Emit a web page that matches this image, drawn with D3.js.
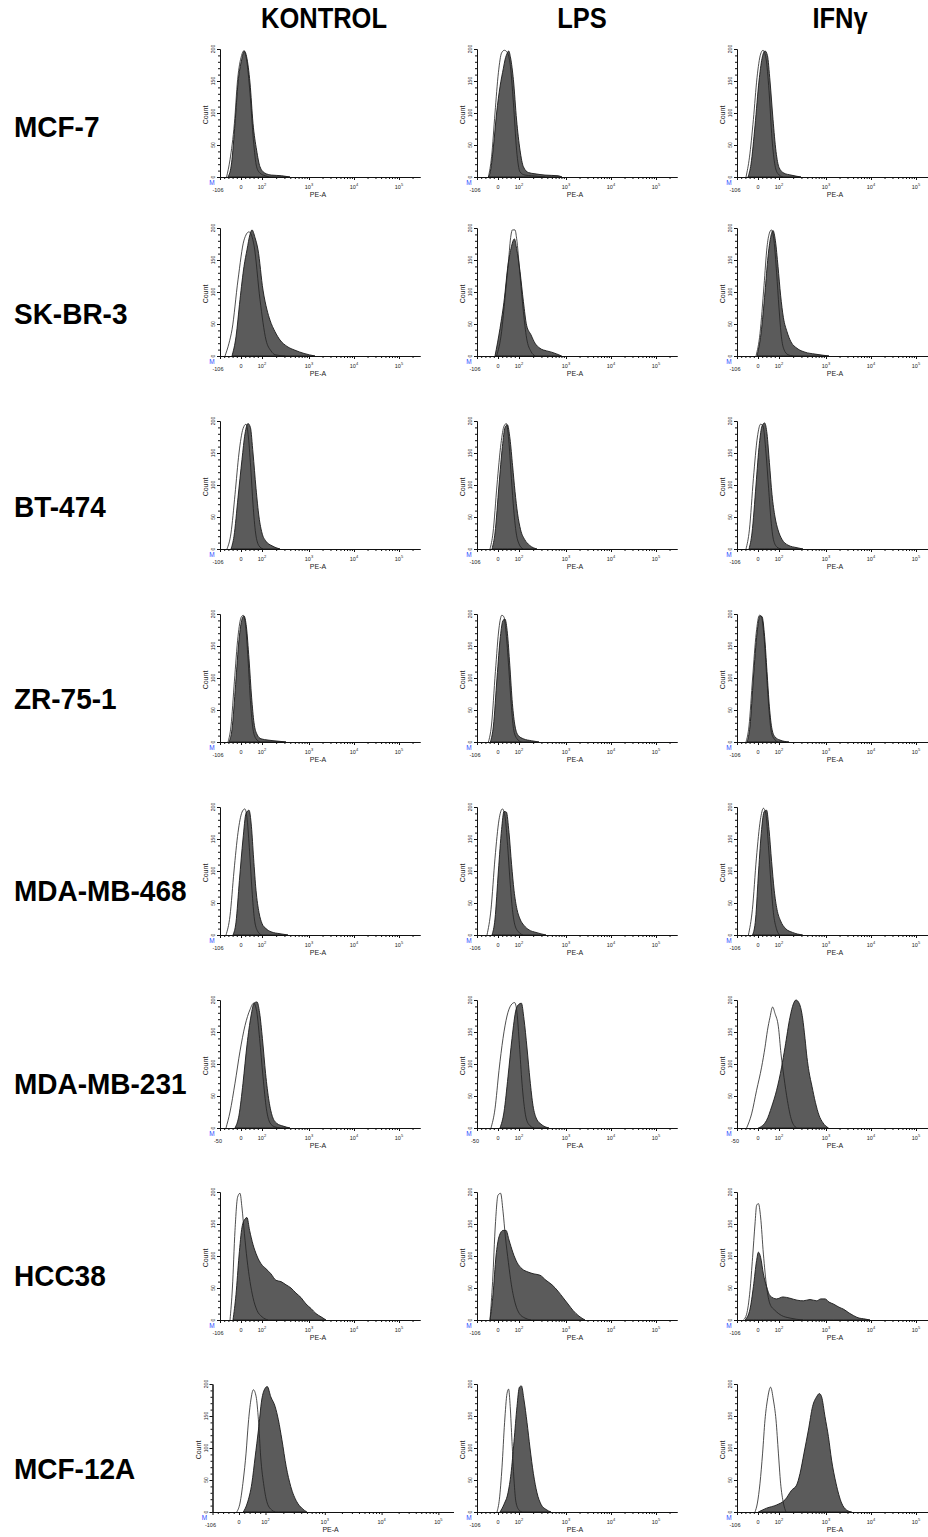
<!DOCTYPE html>
<html>
<head>
<meta charset="utf-8">
<script src="https://cdn.jsdelivr.net/npm/d3@7"></script>
<style>
  body { margin: 0; background: #fff; }
  svg { display: block; }
</style>
</head>
<body>
<svg id="chart"></svg>
<script>
const CELL_LINES = ['MCF-7', 'SK-BR-3', 'BT-474', 'ZR-75-1', 'MDA-MB-468', 'MDA-MB-231', 'HCC38', 'MCF-12A'];
const TREATMENTS = ['KONTROL', 'LPS', 'IFNγ'];
const COUNT_TICKS = [0, 50, 100, 150, 200];
// PE-A axis is drawn in display channels (0..1000), decades placed as in the cytometer export
const PE_TICK_CH = [0, 105, 210, 445, 670, 895];
const PE_TICK_LABELS = ['-106', '0', '10^2', '10^3', '10^4', '10^5'];
const PE_MIN_LABELS = ['-106', '-106', '-106', '-106', '-106', '-50', '-106', '-106'];

// histograms: [channel, count], one entry per treatment (KONTROL, LPS, IFNγ)
const MCF7_STAINED = [
  [[40,0],[58,22],[75,84],[90,147],[108,183],[122,197],[133,188],[150,147],[165,84],[183,42],[200,16],[225,6],[258,3],[308,2],[350,0]],
  [[55,0],[65,6],[82,47],[98,100],[115,141],[132,170],[140,183],[152,194],[158,197],[168,186],[182,152],[198,89],[215,42],[232,16],[257,7],[290,5],[340,3],[405,2],[425,0]],
  [[55,0],[70,20],[90,80],[110,150],[125,185],[140,197],[152,190],[165,150],[180,90],[195,40],[210,15],[235,6],[270,3],[320,0]]
];
const MCF7_ISOTYPE = [
  [[33,0],[50,27],[72,84],[88,152],[108,190],[118,197],[133,183],[150,131],[167,58],[183,16],[200,6],[225,2],[245,0]],
  [[57,0],[73,32],[90,100],[107,163],[123,194],[137,198],[148,196],[165,178],[182,116],[198,42],[215,8],[240,3],[273,2],[340,0]],
  [[45,0],[62,30],[82,90],[100,155],[118,192],[130,198],[145,185],[160,135],[175,60],[190,18],[205,5],[230,0]]
];
const SKBR3_STAINED = [
  [[60,0],[80,30],[100,88],[120,140],[135,166],[150,190],[160,197],[175,185],[190,166],[215,103],[235,72],[250,56],[275,38],[300,25],[335,15],[375,9],[420,4],[475,0]],
  [[90,0],[115,43],[137,90],[153,137],[170,168],[187,183],[198,168],[215,132],[232,85],[248,48],[270,33],[290,20],[315,12],[348,8],[373,6],[423,0]],
  [[100,0],[120,35],[140,100],[155,155],[168,185],[180,196],[192,180],[205,140],[218,95],[232,60],[250,38],[270,22],[300,12],[340,6],[390,3],[460,0]]
];
const SKBR3_ISOTYPE = [
  [[25,0],[45,20],[60,41],[90,119],[120,181],[145,194],[170,173],[200,88],[230,25],[255,8],[275,2],[325,0]],
  [[98,0],[123,38],[140,91],[157,147],[170,189],[177,197],[190,197],[198,184],[215,127],[232,69],[248,28],[270,7],[290,0]],
  [[95,0],[115,35],[135,110],[150,170],[162,192],[172,197],[185,180],[198,130],[210,75],[222,30],[235,10],[255,2],[280,0]]
];
const BT474_STAINED = [
  [[55,0],[70,20],[90,80],[110,140],[125,180],[140,196],[152,190],[165,150],[180,95],[195,50],[210,25],[230,12],[260,5],[300,0]],
  [[75,0],[90,25],[110,100],[127,160],[140,190],[152,194],[165,172],[178,130],[190,90],[203,55],[218,30],[238,15],[262,6],[300,0]],
  [[60,0],[75,25],[95,100],[112,165],[125,192],[138,197],[150,180],[162,135],[175,85],[190,50],[205,30],[225,15],[255,6],[300,2],[330,0]]
];
const BT474_ISOTYPE = [
  [[35,0],[55,25],[75,85],[95,150],[115,188],[130,195],[142,175],[155,120],[165,70],[178,25],[195,5],[215,0]],
  [[65,0],[80,25],[100,100],[120,165],[135,192],[147,196],[160,165],[172,110],[184,60],[196,25],[210,8],[230,0]],
  [[45,0],[62,30],[82,110],[102,175],[118,195],[130,192],[145,150],[158,95],[170,45],[182,15],[200,3],[220,0]]
];
const ZR751_STAINED = [
  [[45,0],[60,20],[78,90],[95,160],[110,192],[120,197],[132,180],[145,130],[158,70],[170,30],[185,12],[205,5],[240,3],[300,1],[330,0]],
  [[67,0],[82,25],[100,100],[117,165],[130,190],[140,192],[152,170],[164,120],[177,60],[190,25],[207,10],[232,5],[272,2],[310,0]],
  [[50,0],[65,25],[82,100],[100,170],[115,197],[125,196],[138,165],[150,110],[162,55],[175,20],[190,8],[215,3],[260,0]]
];
const ZR751_ISOTYPE = [
  [[40,0],[55,25],[72,95],[90,165],[106,195],[116,198],[128,182],[140,130],[152,65],[165,20],[180,5],[200,0]],
  [[57,0],[72,25],[92,110],[110,178],[124,198],[134,196],[147,165],[160,110],[172,55],[184,18],[200,5],[222,0]],
  [[45,0],[60,25],[78,100],[96,170],[112,198],[122,196],[135,165],[148,105],[160,50],[172,15],[188,4],[205,0]]
];
const MDA468_STAINED = [
  [[65,0],[80,20],[97,85],[115,150],[130,190],[145,195],[157,170],[168,120],[180,70],[195,35],[210,18],[230,10],[255,5],[300,2],[340,0]],
  [[75,0],[90,25],[107,100],[123,165],[135,193],[147,192],[160,160],[173,110],[185,70],[200,40],[215,25],[235,15],[260,8],[295,4],[345,0]],
  [[78,0],[93,25],[108,100],[123,165],[136,193],[148,195],[160,165],[173,115],[186,70],[200,40],[218,22],[243,10],[278,4],[328,0]]
];
const MDA468_ISOTYPE = [
  [[30,0],[50,30],[70,100],[90,160],[110,192],[124,197],[136,180],[148,130],[160,70],[172,25],[188,6],[208,0]],
  [[50,0],[70,40],[90,120],[110,180],[127,197],[140,185],[153,140],[165,85],[177,40],[190,15],[210,4],[230,0]],
  [[57,0],[77,40],[97,120],[117,180],[132,198],[144,190],[157,140],[170,80],[182,35],[197,10],[212,0]]
];
const MDA231_STAINED = [
  [[75,0],[95,20],[115,70],[135,130],[155,175],[170,195],[185,197],[198,180],[212,140],[228,85],[245,42],[262,18],[285,7],[315,3],[350,0]],
  [[115,0],[135,25],[155,80],[175,140],[195,185],[208,193],[222,195],[235,170],[250,125],[265,75],[280,35],[298,14],[320,6],[360,0]],
  [[107,0],[148,12],[173,33],[198,59],[223,95],[240,126],[265,173],[282,194],[295,200],[312,194],[328,172],[340,140],[350,110],[360,88],[375,65],[392,40],[410,20],[430,8],[457,0]]
];
const MDA231_ISOTYPE = [
  [[30,0],[50,25],[75,70],[100,120],[125,160],[150,185],[168,195],[182,185],[198,140],[215,80],[232,30],[250,8],[272,2],[300,0]],
  [[70,0],[90,30],[110,90],[130,140],[150,175],[170,192],[188,196],[200,180],[212,130],[225,70],[240,25],[258,6],[285,0]],
  [[48,0],[73,22],[98,59],[123,95],[140,126],[152,152],[165,173],[178,189],[190,179],[207,158],[220,116],[235,79],[252,43],[273,12],[298,0]]
];
const HCC38_STAINED = [
  [[65,0],[80,40],[95,100],[110,145],[125,158],[135,160],[148,140],[165,118],[185,100],[205,88],[230,80],[255,72],[280,62],[305,60],[330,55],[355,50],[380,42],[405,35],[430,25],[455,18],[480,10],[505,5],[530,0]],
  [[65,0],[80,40],[95,100],[110,130],[130,140],[145,140],[160,125],[180,105],[200,90],[225,80],[255,75],[285,72],[315,70],[345,62],[375,55],[405,45],[430,35],[455,25],[480,15],[510,6],[540,0]],
  [[40,0],[65,17],[82,52],[98,93],[107,106],[118,98],[132,72],[148,52],[165,38],[198,33],[230,36],[265,34],[300,31],[332,30],[365,32],[398,30],[420,33],[440,33],[460,28],[482,25],[510,20],[532,17],[560,11],[582,7],[610,3],[632,2],[665,0]]
];
const HCC38_ISOTYPE = [
  [[50,0],[62,50],[75,140],[88,192],[100,198],[110,175],[122,135],[135,95],[150,60],[165,35],[185,15],[210,5],[240,0]],
  [[65,0],[78,60],[92,150],[105,195],[118,198],[130,170],[142,130],[157,90],[172,55],[192,25],[212,10],[240,3],[270,0]],
  [[32,0],[48,9],[65,46],[78,98],[90,150],[98,179],[107,182],[118,161],[132,103],[148,52],[165,25],[190,15],[223,7],[265,3],[330,0]]
];
const MCF12A_STAINED = [
  [[122,0],[138,14],[156,45],[169,86],[182,128],[195,175],[208,193],[217,196],[231,180],[248,165],[261,144],[275,113],[292,71],[310,40],[334,16],[354,6],[374,0]],
  [[115,0],[135,12],[155,30],[170,60],[185,110],[200,165],[212,195],[222,197],[235,175],[250,140],[265,100],[282,60],[300,30],[320,12],[345,4],[370,0]],
  [[107,0],[148,6],[198,11],[240,19],[273,34],[298,42],[315,60],[335,92],[357,128],[378,165],[398,180],[412,185],[423,180],[440,149],[457,118],[473,81],[495,45],[523,14],[548,3],[573,0]]
];
const MCF12A_ISOTYPE = [
  [[96,0],[109,14],[122,50],[133,92],[142,139],[152,175],[162,191],[173,180],[182,144],[191,86],[204,40],[217,14],[235,3],[248,0]],
  [[100,0],[112,20],[125,70],[138,140],[150,185],[158,192],[166,165],[175,110],[185,50],[195,15],[210,3],[225,0]],
  [[90,0],[102,14],[115,45],[128,92],[140,144],[152,175],[168,195],[182,175],[195,144],[207,92],[218,45],[232,14],[245,0]]
];

const STAINED = [MCF7_STAINED, SKBR3_STAINED, BT474_STAINED, ZR751_STAINED, MDA468_STAINED, MDA231_STAINED, HCC38_STAINED, MCF12A_STAINED];
const ISOTYPE = [MCF7_ISOTYPE, SKBR3_ISOTYPE, BT474_ISOTYPE, ZR751_ISOTYPE, MDA468_ISOTYPE, MDA231_ISOTYPE, HCC38_ISOTYPE, MCF12A_ISOTYPE];

// layout
const W = 928, H = 1537;
const COL_X = [220, 477, 737];
const ROW_BASE = [177, 356, 549, 742, 935, 1128, 1320, 1512];
const ROW_LABEL_Y = [137, 324, 517, 709, 901, 1094, 1286, 1479];
const HEAD_X = [324, 582, 840];
const PANEL_W = 200, PANEL_H = 128;
const FONT = '"Liberation Sans", Arial, sans-serif';

const svg = d3.select('#chart').attr('width', W).attr('height', H);
svg.append('rect').attr('width', W).attr('height', H).attr('fill', '#fff');

// column headers
TREATMENTS.forEach((t, i) => {
  svg.append('text')
    .attr('transform', `translate(${HEAD_X[i]},28) scale(1,1.13)`)
    .attr('text-anchor', 'middle')
    .attr('font-family', FONT).attr('font-weight', 'bold').attr('font-size', 25.5)
    .attr('fill', '#000')
    .text(t);
});

// row labels
CELL_LINES.forEach((name, i) => {
  svg.append('text')
    .attr('transform', `translate(14,${ROW_LABEL_Y[i]}) scale(1,1.05)`)
    .attr('font-family', FONT).attr('font-weight', 'bold').attr('font-size', 28)
    .attr('fill', '#000')
    .text(name);
});

function minorChannels() {
  const out = [];
  // linear part around zero
  for (let k = -5; k <= 5; k++) {
    const ch = 105 + k * 21;
    if (k !== 0 && k !== 5 && ch > 0) out.push(ch);
  }
  // log decades
  const dec = [[210, 445], [445, 670], [670, 895], [895, 1120]];
  dec.forEach(([a, b]) => {
    for (let m = 2; m <= 9; m++) {
      const ch = a + Math.log10(m) * (b - a);
      if (ch < 1000) out.push(ch);
    }
  });
  return out;
}
const MINOR_CH = minorChannels();

function tickLabel(g, xPos, yPos, label) {
  const t = g.append('text')
    .attr('x', xPos).attr('y', yPos)
    .attr('text-anchor', 'middle')
    .attr('font-family', FONT).attr('font-size', 5.5).attr('fill', '#222');
  const parts = label.split('^');
  t.append('tspan').text(parts[0]);
  if (parts[1]) {
    t.append('tspan').attr('dy', -2.6).attr('font-size', 4).text(parts[1]);
  }
}

function drawPanel(r, c) {
  let x0 = COL_X[c], w = PANEL_W, chMax = 1000;
  if (r === 7 && c === 0) { x0 = 212.5; w = 241; chMax = 955; }
  const base = ROW_BASE[r];
  const g = svg.append('g');

  const x = d3.scaleLinear().domain([0, chMax]).range([x0, x0 + w]);
  const y = d3.scaleLinear().domain([0, 200]).range([base, base - PANEL_H]);

  const area = d3.area()
    .x(d => x(d[0])).y0(y(0)).y1(d => y(d[1]))
    .curve(d3.curveMonotoneX);
  const line = d3.line()
    .x(d => x(d[0])).y(d => y(d[1]))
    .curve(d3.curveMonotoneX);

  g.append('path')
    .attr('d', area(STAINED[r][c]))
    .attr('fill', '#5b5b5b')
    .attr('stroke', '#1a1a1a').attr('stroke-width', 0.9);
  g.append('path')
    .attr('d', line(ISOTYPE[r][c]))
    .attr('fill', 'none')
    .attr('stroke', '#222').attr('stroke-width', 0.8);

  // count axis
  const yAxis = g.append('g').attr('transform', `translate(${x0},0)`);
  yAxis.append('g').call(d3.axisLeft(y).tickValues(d3.range(0, 201, 10)).tickSize(2).tickSizeOuter(0).tickFormat(''));
  yAxis.append('g').call(d3.axisLeft(y).tickValues(COUNT_TICKS).tickSize(3).tickSizeOuter(0).tickFormat(''));
  COUNT_TICKS.forEach(v => {
    g.append('text')
      .attr('transform', `translate(${x0 - 5},${y(v)}) rotate(-90)`)
      .attr('text-anchor', 'middle')
      .attr('font-family', FONT).attr('font-size', 5).attr('fill', '#222')
      .text(v);
  });
  g.append('text')
    .attr('transform', `translate(${x0 - 12},${base - 62}) rotate(-90)`)
    .attr('text-anchor', 'middle')
    .attr('font-family', FONT).attr('font-size', 7).attr('fill', '#222')
    .text('Count');

  // PE-A axis
  const xAxis = g.append('g').attr('transform', `translate(0,${base})`);
  xAxis.append('g').call(d3.axisBottom(x).tickValues(MINOR_CH.filter(v => v <= chMax)).tickSize(2).tickSizeOuter(0).tickFormat(''));
  xAxis.append('g').call(d3.axisBottom(x).tickValues(PE_TICK_CH).tickSize(3).tickSizeOuter(0).tickFormat(''));
  g.selectAll('.domain, .tick line').attr('stroke', '#111');

  PE_TICK_CH.forEach((ch, i) => {
    const label = i === 0 ? PE_MIN_LABELS[r] : PE_TICK_LABELS[i];
    tickLabel(g, x(ch) - (i === 0 ? 2 : 0), base + (i === 0 ? 15 : 11.5), label);
  });
  g.append('text')
    .attr('x', x0 + w * 0.49).attr('y', base + 20)
    .attr('text-anchor', 'middle')
    .attr('font-family', FONT).attr('font-size', 7).attr('fill', '#222')
    .text('PE-A');

  g.append('text')
    .attr('x', x0 - 8).attr('y', base + 8)
    .attr('text-anchor', 'middle')
    .attr('font-family', FONT).attr('font-size', 6.5).attr('fill', '#2b4cff')
    .text('M');
}

CELL_LINES.forEach((_, r) => TREATMENTS.forEach((_, c) => drawPanel(r, c)));
</script>
</body>
</html>
